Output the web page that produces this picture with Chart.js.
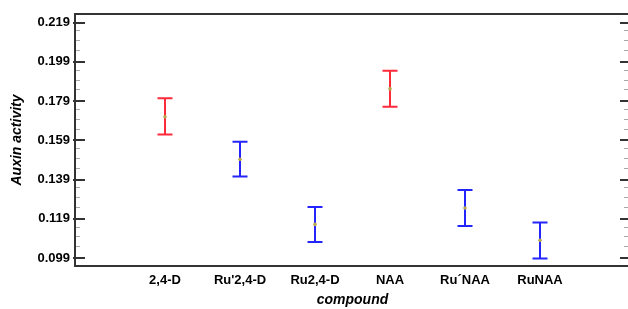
<!DOCTYPE html>
<html><head><meta charset="utf-8">
<script src="https://cdn.jsdelivr.net/npm/chart.js@4/dist/chart.umd.min.js"></script>
<style>html,body{margin:0;padding:0;overflow:hidden;background:#fff}#wrap{width:634px;height:309px;position:relative}</style>
</head><body><div id="wrap"><canvas id="c" width="634" height="309"></canvas></div>
<script>
const categories = ['2,4-D', "Ru'2,4-D", 'Ru2,4-D', 'NAA', 'Ru\u00B4NAA', 'RuNAA'];
const means = [0.1710, 0.1493, 0.1161, 0.1852, 0.1245, 0.1080];
const lowerLimits = [0.1620, 0.1406, 0.1072, 0.1761, 0.1153, 0.0987];
const upperLimits = [0.1804, 0.1582, 0.1250, 0.1944, 0.1337, 0.1171];
const groups = ['auxin', 'complex', 'complex', 'auxin', 'complex', 'complex'];
const yMajorTicks = [0.099, 0.119, 0.139, 0.159, 0.179, 0.199, 0.219];
const yMinorStep = 0.005;

const groupColors = { auxin: '#ff2b3a', complex: '#2424ff' };
Chart.defaults.font.family = "'Liberation Sans', Arial, sans-serif";
Chart.defaults.color = '#000';

const framePlugin = {
  id: 'frame',
  beforeDatasetsDraw(chart) {
    const ctx = chart.ctx, ca = chart.chartArea;
    const y = chart.scales.y, x = chart.scales.x;
    ctx.save();
    // error bars
    ctx.lineWidth = 2;
    for (let i = 0; i < means.length; i++) {
      const px = x.getPixelForValue(i);
      const pt = y.getPixelForValue(upperLimits[i]);
      const pb = y.getPixelForValue(lowerLimits[i]);
      ctx.strokeStyle = groupColors[groups[i]];
      ctx.beginPath();
      ctx.moveTo(px, pt); ctx.lineTo(px, pb);
      ctx.moveTo(px - 7.5, pt); ctx.lineTo(px + 7.5, pt);
      ctx.moveTo(px - 7.5, pb); ctx.lineTo(px + 7.5, pb);
      ctx.stroke();
    }
    // minor ticks
    ctx.strokeStyle = '#a8a8a8';
    ctx.lineWidth = 1.2;
    const start = Math.ceil(y.min / yMinorStep) * yMinorStep;
    for (let v = start; v <= y.max; v += yMinorStep) {
      if (yMajorTicks.some(m => Math.abs(m - v) < 0.0015)) continue;
      const py = Math.round(y.getPixelForValue(v)) + 0.5;
      ctx.beginPath();
      ctx.moveTo(ca.left, py); ctx.lineTo(ca.left + 5, py);
      ctx.moveTo(ca.right - 6, py); ctx.lineTo(ca.right, py);
      ctx.stroke();
    }
    // major ticks
    ctx.strokeStyle = '#333';
    ctx.lineWidth = 2;
    yMajorTicks.forEach(v => {
      const py = Math.round(y.getPixelForValue(v));
      ctx.beginPath();
      ctx.moveTo(ca.left - 2, py); ctx.lineTo(ca.left + 10, py);
      ctx.moveTo(ca.right - 10, py); ctx.lineTo(ca.right, py);
      ctx.stroke();
    });
    // frame
    ctx.strokeStyle = '#333';
    ctx.lineWidth = 2;
    ctx.strokeRect(ca.left, ca.top, ca.right - ca.left, ca.bottom - ca.top);
    ctx.restore();
  }
};

new Chart(document.getElementById('c'), {
  type: 'scatter',
  data: {
    datasets: [{
      data: means.map((m, i) => ({ x: i, y: m })),
      pointRadius: 1.8,
      pointBackgroundColor: '#b8a850',
      pointBorderColor: '#b8a850',
      pointBorderWidth: 0
    }]
  },
  options: {
    responsive: false,
    animation: false,
    events: [],
    layout: { padding: { top: 14, right: 4, left: 0, bottom: 0 } },
    plugins: { legend: { display: false }, tooltip: { enabled: false } },
    scales: {
      x: {
        type: 'linear', min: -1.2, max: 6.2,
        afterBuildTicks: s => { s.ticks = categories.map((c, i) => ({ value: i })); },
        afterFit: s => { s.height = 43; },
        ticks: { callback: v => categories[v], font: { size: 13, weight: 'bold' }, padding: 7, maxRotation: 0, autoSkip: false },
        grid: { display: false, drawTicks: false },
        border: { display: false },
        title: { display: true, text: 'compound', font: { size: 14, weight: 'bold', style: 'italic' }, padding: { top: 5, bottom: 0 } }
      },
      y: {
        min: 0.0949, max: 0.2234,
        afterBuildTicks: s => { s.ticks = yMajorTicks.map(v => ({ value: v })); },
        afterFit: s => { s.width = 75; },
        ticks: { callback: v => v.toFixed(3), font: { size: 13, weight: 'bold' }, padding: 5, autoSkip: false },
        grid: { display: false, drawTicks: false },
        border: { display: false },
        title: { display: true, text: 'Auxin activity', font: { size: 14, weight: 'bold', style: 'italic' }, padding: { top: 9, bottom: 4 } }
      }
    }
  },
  plugins: [framePlugin]
});
</script></body></html>
